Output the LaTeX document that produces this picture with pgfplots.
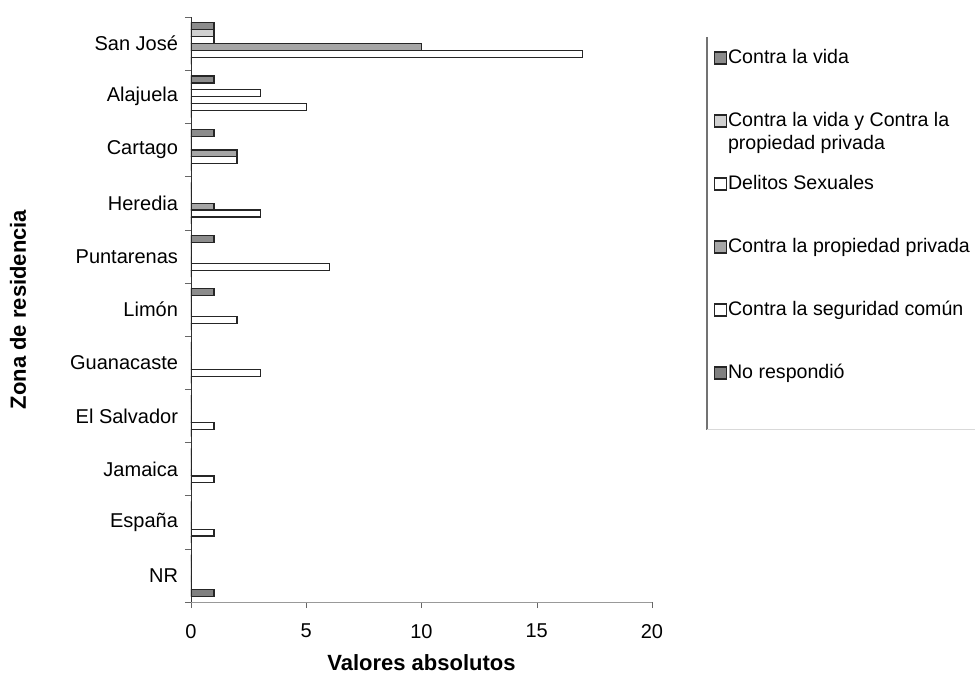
\documentclass[border=0pt]{standalone}
\usepackage{fontspec}
\setmainfont{Liberation Sans}
\usepackage{pgfplots}
\usepackage{pgfplotstable}
\pgfplotsset{compat=1.18}

% idx: San José = 10 (top) ... NR = 0 (bottom)
\pgfplotstableread{
idx clv clvcpp ds cpp csc nr
10 1 1 1 10 17 0
9  1 0 3 0  5  0
8  1 0 0 2  2  0
7  0 0 0 1  3  0
6  1 0 0 0  6  0
5  1 0 0 0  2  0
4  0 0 0 0  3  0
3  0 0 0 0  1  0
2  0 0 0 0  1  0
1  0 0 0 0  1  0
0  0 0 0 0  0  1
}\datatable

\newcommand\lentwo{\parbox[t]{6cm}{\fontsize{9.8bp}{11.5bp}\selectfont Contra la vida y Contra la\newline propiedad privada}}

\begin{document}
\begin{tikzpicture}
\useasboundingbox (-95.5bp,-39bp) rectangle (392bp,301bp);
\begin{axis}[
  scale only axis, width=230.5bp, height=292.5bp,
  xbar, bar width=0.13,
  xmin=0, xmax=20, ymin=-0.5, ymax=10.5,
  axis x line*=bottom, axis y line*=left,
  axis line style={-},
  x axis line style={draw=black!40},
  y axis line style={draw=black!80},
  tick align=outside,
  xtick={0,5,10,15,20},
  ytick={0,...,10},
  yticklabels={NR,España,Jamaica,El Salvador,Guanacaste,Limón,Puntarenas,Heredia,Cartago,Alajuela,San José},
  minor ytick={-0.5,0.5,...,10.5},
  major tick length=3bp, minor tick length=3bp,
  every major y tick/.style={draw=none},
  every minor y tick/.style={draw=black!60},
  every major x tick/.style={draw=black!60},
  xticklabel style={font=\fontsize{10bp}{11bp}\selectfont, yshift=-4.5bp},
  yticklabel style={font=\fontsize{10bp}{11bp}\selectfont, xshift=0bp},
  /pgf/number format/assume math mode=true,
  xlabel={Valores absolutos}, ylabel={Zona de residencia},
  xlabel style={font=\bfseries\fontsize{11bp}{12bp}\selectfont, at={(axis description cs:0.5,-0.104)}, anchor=center},
  ylabel style={font=\bfseries\fontsize{11bp}{12bp}\selectfont, at={(axis description cs:-0.375,0.5)}, anchor=center},
  legend style={at={(1.119,1.0085)}, anchor=north west, draw=none, fill=none,
    inner xsep=3.5bp, inner ysep=18bp, row sep=21.9bp,
    nodes={inner sep=0.3bp, text height=7bp, text depth=2bp},
    font=\fontsize{9.8bp}{11.5bp}\selectfont},
  legend cell align=left,
  legend image code/.code={\draw[#1] (0bp,-3bp) rectangle (6bp,3bp);},
  every axis plot/.append style={draw=black!85, line width=0.6bp},
]
\addplot[fill=black!45, bar shift=0.325]  table[x=clv,   y=idx]{\datatable};
\addplot[fill=black!18, bar shift=0.195]  table[x=clvcpp,y=idx]{\datatable};
\addplot[fill=white,    bar shift=0.065]  table[x=ds,    y=idx]{\datatable};
\addplot[fill=black!35, bar shift=-0.065] table[x=cpp,   y=idx]{\datatable};
\addplot[fill=white,    bar shift=-0.195] table[x=csc,   y=idx]{\datatable};
\addplot[fill=black!50, bar shift=-0.325] table[x=nr,    y=idx]{\datatable};
\addlegendentry{Contra la vida}
\addlegendentry{\lentwo}
\addlegendentry{Delitos Sexuales}
\addlegendentry{Contra la propiedad privada}
\addlegendentry{Contra la seguridad común}
\addlegendentry{No respondió}
\end{axis}
% legend frame: only its left edge and a faint bottom edge show in the reference
\draw[black!55, line width=0.6bp] (258bp,282.5bp) -- (258bp,86bp);
\draw[black!15, line width=0.5bp] (258bp,86bp) -- (392bp,86bp);
\end{tikzpicture}
\end{document}
